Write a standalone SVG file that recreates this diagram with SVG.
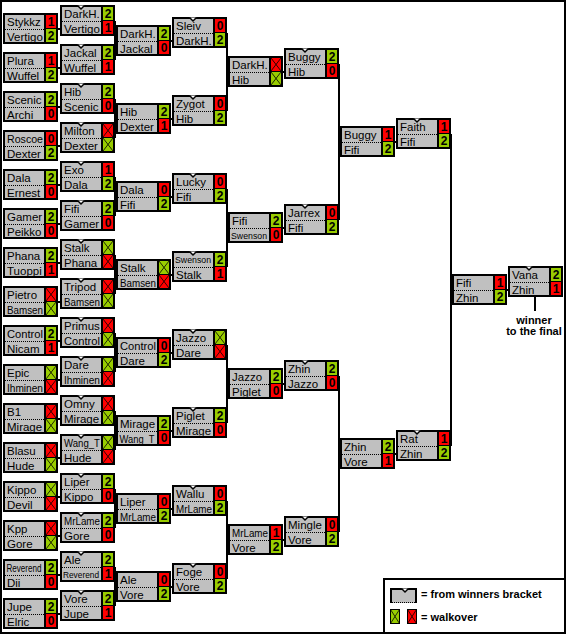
<svg xmlns="http://www.w3.org/2000/svg" xmlns:xlink="http://www.w3.org/1999/xlink" width="566" height="636" viewBox="0 0 566 636">
<style>
.n{font-family:"Liberation Sans",Arial,sans-serif;font-size:11.5px;fill:#000}
.sm{font-family:"Liberation Sans",Arial,sans-serif;font-size:9px;fill:#000}
.s{font-family:"Liberation Sans",Arial,sans-serif;font-size:12px;font-weight:bold;fill:#000;text-anchor:middle}
.c{stroke:#000;stroke-width:2;fill:none}
.lg{font-family:"Liberation Sans",Arial,sans-serif;font-size:11px;font-weight:bold;fill:#000}
</style>
<defs>
<g id="bx"><rect width="55" height="31" fill="#000"/><rect x="2" y="2" width="39" height="27" fill="#c0c0c0"/><path d="M2 16.5H41" stroke="#000" stroke-dasharray="1 1"/></g>
<path id="tb" d="M17.5 0.5L21 4L24.5 0.5" fill="#fff" stroke="#000" stroke-width="1.5"/>
<rect id="GT" x="43" y="2" width="10" height="13" fill="#99cc00"/>
<rect id="RT" x="43" y="2" width="10" height="13" fill="#ff0000"/>
<rect id="GB" x="43" y="16" width="10" height="13" fill="#99cc00"/>
<rect id="RB" x="43" y="16" width="10" height="13" fill="#ff0000"/>
<path id="XT" d="M43 2L53 15M53 2L43 15" stroke="#000" stroke-width="1" fill="none" opacity="0.8"/>
<path id="XB" d="M43 16L53 29M53 16L43 29" stroke="#000" stroke-width="1" fill="none" opacity="0.8"/>
</defs>
<rect width="566" height="636" fill="#fff"/>
<rect x="1" y="1" width="564" height="632" fill="none" stroke="#000" stroke-width="2"/>

<g id="connectors" class="c">
<path d="M57 29H61M57 68H61M57 107H61M57 146H61M57 185H61M57 224H61M57 263H61M57 302H61M57 341H61M57 380H61M57 419H61M57 458H61M57 497H61M57 536H61M57 575H61M57 614H61"/>
<path d="M115 21V60M115 99V138M115 177V216M115 255V294M115 333V372M115 411V450M115 489V528M115 567V606"/>
<path d="M114 41H117M114 119H117M114 197H117M114 275H117M114 353H117M114 431H117M114 509H117M114 587H117"/>
<path d="M170 41H173M170 119H173M170 197H173M170 275H173M170 353H173M170 431H173M170 509H173M170 587H173"/>
<path d="M227 33V111M227 189V267M227 345V423M227 501V579"/>
<path d="M226 72H229M226 228H229M226 384H229M226 540H229"/>
<path d="M282 72H285M282 228H285M282 384H285M282 540H285"/>
<path d="M339 64V220M339 376V532M338 142H341M338 454H341"/>
<path d="M394 142H397M394 454H397"/>
<path d="M451 134V446M450 290H453M506 290H509"/>
<path d="M535 297V311"/>
</g>

<!-- column 1 -->
<g id="m1" transform="translate(3,13)"><use href="#bx"/><use href="#RT"/><use href="#GB"/><text class="n" x="4" y="12.5">Stykkz</text><text class="n" x="4" y="27.5">Vertigo</text><text class="s" x="48" y="13">1</text><text class="s" x="48" y="27">2</text></g>
<g id="m2" transform="translate(3,52)"><use href="#bx"/><use href="#RT"/><use href="#GB"/><text class="n" x="4" y="12.5">Plura</text><text class="n" x="4" y="27.5">Wuffel</text><text class="s" x="48" y="13">1</text><text class="s" x="48" y="27">2</text></g>
<g id="m3" transform="translate(3,91)"><use href="#bx"/><use href="#GT"/><use href="#RB"/><text class="n" x="4" y="12.5">Scenic</text><text class="n" x="4" y="27.5">Archi</text><text class="s" x="48" y="13">2</text><text class="s" x="48" y="27">0</text></g>
<g id="m4" transform="translate(3,130)"><use href="#bx"/><use href="#RT"/><use href="#GB"/><text class="n" x="4" y="12.5" textLength="36" lengthAdjust="spacingAndGlyphs">Roscoe</text><text class="n" x="4" y="27.5">Dexter</text><text class="s" x="48" y="13">0</text><text class="s" x="48" y="27">2</text></g>
<g id="m5" transform="translate(3,169)"><use href="#bx"/><use href="#GT"/><use href="#RB"/><text class="n" x="4" y="12.5">Dala</text><text class="n" x="4" y="27.5">Ernest</text><text class="s" x="48" y="13">2</text><text class="s" x="48" y="27">0</text></g>
<g id="m6" transform="translate(3,208)"><use href="#bx"/><use href="#GT"/><use href="#RB"/><text class="n" x="4" y="12.5">Gamer</text><text class="n" x="4" y="27.5">Peikko</text><text class="s" x="48" y="13">2</text><text class="s" x="48" y="27">0</text></g>
<g id="m7" transform="translate(3,247)"><use href="#bx"/><use href="#GT"/><use href="#RB"/><text class="n" x="4" y="12.5">Phana</text><text class="n" x="4" y="27.5">Tuoppi</text><text class="s" x="48" y="13">2</text><text class="s" x="48" y="27">1</text></g>
<g id="m8" transform="translate(3,286)"><use href="#bx"/><use href="#RT"/><use href="#XT"/><use href="#GB"/><use href="#XB"/><text class="n" x="4" y="12.5">Pietro</text><text class="n" x="4" y="27.5" textLength="36" lengthAdjust="spacingAndGlyphs">Bamsen</text></g>
<g id="m9" transform="translate(3,325)"><use href="#bx"/><use href="#GT"/><use href="#RB"/><text class="n" x="4" y="12.5" textLength="36" lengthAdjust="spacingAndGlyphs">Control</text><text class="n" x="4" y="27.5">Nicam</text><text class="s" x="48" y="13">2</text><text class="s" x="48" y="27">1</text></g>
<g id="m10" transform="translate(3,364)"><use href="#bx"/><use href="#GT"/><use href="#XT"/><use href="#RB"/><use href="#XB"/><text class="n" x="4" y="12.5">Epic</text><text class="n" x="4" y="27.5" textLength="36" lengthAdjust="spacingAndGlyphs">Ihminen</text></g>
<g id="m11" transform="translate(3,403)"><use href="#bx"/><use href="#RT"/><use href="#XT"/><use href="#GB"/><use href="#XB"/><text class="n" x="4" y="12.5">B1</text><text class="n" x="4" y="27.5">Mirage</text></g>
<g id="m12" transform="translate(3,442)"><use href="#bx"/><use href="#RT"/><use href="#XT"/><use href="#GB"/><use href="#XB"/><text class="n" x="4" y="12.5">Blasu</text><text class="n" x="4" y="27.5">Hude</text></g>
<g id="m13" transform="translate(3,481)"><use href="#bx"/><use href="#GT"/><use href="#XT"/><use href="#RB"/><use href="#XB"/><text class="n" x="4" y="12.5">Kippo</text><text class="n" x="4" y="27.5">Devil</text></g>
<g id="m14" transform="translate(3,520)"><use href="#bx"/><use href="#RT"/><use href="#XT"/><use href="#GB"/><use href="#XB"/><text class="n" x="4" y="12.5">Kpp</text><text class="n" x="4" y="27.5">Gore</text></g>
<g id="m15" transform="translate(3,559)"><use href="#bx"/><use href="#GT"/><use href="#RB"/><text class="n" x="3.5" y="12.5" style="font-size:10px" textLength="35" lengthAdjust="spacingAndGlyphs">Reverend</text><text class="n" x="4" y="27.5">Dii</text><text class="s" x="48" y="13">2</text><text class="s" x="48" y="27">0</text></g>
<g id="m16" transform="translate(3,598)"><use href="#bx"/><use href="#GT"/><use href="#RB"/><text class="n" x="4" y="12.5">Jupe</text><text class="n" x="4" y="27.5">Elric</text><text class="s" x="48" y="13">2</text><text class="s" x="48" y="27">0</text></g>

<!-- column 2 -->
<g id="m17" transform="translate(60,5)"><use href="#bx"/><use href="#tb"/><use href="#GT"/><use href="#RB"/><text class="n" x="4" y="12.5">DarkH.</text><text class="n" x="4" y="27.5">Vertigo</text><text class="s" x="48" y="13">2</text><text class="s" x="48" y="27">1</text></g>
<g id="m18" transform="translate(60,44)"><use href="#bx"/><use href="#tb"/><use href="#GT"/><use href="#RB"/><text class="n" x="4" y="12.5">Jackal</text><text class="n" x="4" y="27.5">Wuffel</text><text class="s" x="48" y="13">2</text><text class="s" x="48" y="27">1</text></g>
<g id="m19" transform="translate(60,83)"><use href="#bx"/><use href="#tb"/><use href="#GT"/><use href="#RB"/><text class="n" x="4" y="12.5">Hib</text><text class="n" x="4" y="27.5">Scenic</text><text class="s" x="48" y="13">2</text><text class="s" x="48" y="27">0</text></g>
<g id="m20" transform="translate(60,122)"><use href="#bx"/><use href="#tb"/><use href="#RT"/><use href="#XT"/><use href="#GB"/><use href="#XB"/><text class="n" x="4" y="12.5">Milton</text><text class="n" x="4" y="27.5">Dexter</text></g>
<g id="m21" transform="translate(60,161)"><use href="#bx"/><use href="#tb"/><use href="#RT"/><use href="#GB"/><text class="n" x="4" y="12.5">Exo</text><text class="n" x="4" y="27.5">Dala</text><text class="s" x="48" y="13">1</text><text class="s" x="48" y="27">2</text></g>
<g id="m22" transform="translate(60,200)"><use href="#bx"/><use href="#tb"/><use href="#GT"/><use href="#RB"/><text class="n" x="4" y="12.5">Fifi</text><text class="n" x="4" y="27.5">Gamer</text><text class="s" x="48" y="13">2</text><text class="s" x="48" y="27">0</text></g>
<g id="m23" transform="translate(60,239)"><use href="#bx"/><use href="#tb"/><use href="#GT"/><use href="#XT"/><use href="#RB"/><use href="#XB"/><text class="n" x="4" y="12.5">Stalk</text><text class="n" x="4" y="27.5">Phana</text></g>
<g id="m24" transform="translate(60,278)"><use href="#bx"/><use href="#tb"/><use href="#RT"/><use href="#XT"/><use href="#GB"/><use href="#XB"/><text class="n" x="4" y="12.5">Tripod</text><text class="n" x="4" y="27.5" textLength="36" lengthAdjust="spacingAndGlyphs">Bamsen</text></g>
<g id="m25" transform="translate(60,317)"><use href="#bx"/><use href="#tb"/><use href="#RT"/><use href="#XT"/><use href="#GB"/><use href="#XB"/><text class="n" x="4" y="12.5">Primus</text><text class="n" x="4" y="27.5" textLength="36" lengthAdjust="spacingAndGlyphs">Control</text></g>
<g id="m26" transform="translate(60,356)"><use href="#bx"/><use href="#tb"/><use href="#GT"/><use href="#XT"/><use href="#RB"/><use href="#XB"/><text class="n" x="4" y="12.5">Dare</text><text class="n" x="4" y="27.5" textLength="36" lengthAdjust="spacingAndGlyphs">Ihminen</text></g>
<g id="m27" transform="translate(60,395)"><use href="#bx"/><use href="#tb"/><use href="#RT"/><use href="#XT"/><use href="#GB"/><use href="#XB"/><text class="n" x="4" y="12.5">Omny</text><text class="n" x="4" y="27.5">Mirage</text></g>
<g id="m28" transform="translate(60,434)"><use href="#bx"/><use href="#tb"/><use href="#GT"/><use href="#XT"/><use href="#RB"/><use href="#XB"/><text class="n" x="4" y="12.5" textLength="36" lengthAdjust="spacingAndGlyphs">Wang_T</text><text class="n" x="4" y="27.5">Hude</text></g>
<g id="m29" transform="translate(60,473)"><use href="#bx"/><use href="#tb"/><use href="#GT"/><use href="#RB"/><text class="n" x="4" y="12.5">Liper</text><text class="n" x="4" y="27.5">Kippo</text><text class="s" x="48" y="13">2</text><text class="s" x="48" y="27">0</text></g>
<g id="m30" transform="translate(60,512)"><use href="#bx"/><use href="#tb"/><use href="#GT"/><use href="#RB"/><text class="n" x="4" y="12.5" textLength="36" lengthAdjust="spacingAndGlyphs">MrLame</text><text class="n" x="4" y="27.5">Gore</text><text class="s" x="48" y="13">2</text><text class="s" x="48" y="27">0</text></g>
<g id="m31" transform="translate(60,551)"><use href="#bx"/><use href="#tb"/><use href="#GT"/><use href="#RB"/><text class="n" x="4" y="12.5">Ale</text><text class="sm" x="3" y="27" textLength="36" lengthAdjust="spacingAndGlyphs">Reverend</text><text class="s" x="48" y="13">2</text><text class="s" x="48" y="27">1</text></g>
<g id="m32" transform="translate(60,590)"><use href="#bx"/><use href="#tb"/><use href="#GT"/><use href="#RB"/><text class="n" x="4" y="12.5">Vore</text><text class="n" x="4" y="27.5">Jupe</text><text class="s" x="48" y="13">2</text><text class="s" x="48" y="27">1</text></g>

<!-- column 3 -->
<g id="m33" transform="translate(116,25)"><use href="#bx"/><use href="#GT"/><use href="#RB"/><text class="n" x="4" y="12.5">DarkH.</text><text class="n" x="4" y="27.5">Jackal</text><text class="s" x="48" y="13">2</text><text class="s" x="48" y="27">0</text></g>
<g id="m34" transform="translate(116,103)"><use href="#bx"/><use href="#GT"/><use href="#RB"/><text class="n" x="4" y="12.5">Hib</text><text class="n" x="4" y="27.5">Dexter</text><text class="s" x="48" y="13">2</text><text class="s" x="48" y="27">1</text></g>
<g id="m35" transform="translate(116,181)"><use href="#bx"/><use href="#RT"/><use href="#GB"/><text class="n" x="4" y="12.5">Dala</text><text class="n" x="4" y="27.5">Fifi</text><text class="s" x="48" y="13">0</text><text class="s" x="48" y="27">2</text></g>
<g id="m36" transform="translate(116,259)"><use href="#bx"/><use href="#GT"/><use href="#XT"/><use href="#RB"/><use href="#XB"/><text class="n" x="4" y="12.5">Stalk</text><text class="n" x="4" y="27.5" textLength="36" lengthAdjust="spacingAndGlyphs">Bamsen</text></g>
<g id="m37" transform="translate(116,337)"><use href="#bx"/><use href="#RT"/><use href="#GB"/><text class="n" x="4" y="12.5" textLength="36" lengthAdjust="spacingAndGlyphs">Control</text><text class="n" x="4" y="27.5">Dare</text><text class="s" x="48" y="13">0</text><text class="s" x="48" y="27">2</text></g>
<g id="m38" transform="translate(116,415)"><use href="#bx"/><use href="#GT"/><use href="#RB"/><text class="n" x="4" y="12.5">Mirage</text><text class="n" x="3.5" y="27.5" style="font-size:10.5px" textLength="35" lengthAdjust="spacingAndGlyphs">Wang_T</text><text class="s" x="48" y="13">2</text><text class="s" x="48" y="27">0</text></g>
<g id="m39" transform="translate(116,493)"><use href="#bx"/><use href="#RT"/><use href="#GB"/><text class="n" x="4" y="12.5">Liper</text><text class="n" x="4" y="27.5" textLength="36" lengthAdjust="spacingAndGlyphs">MrLame</text><text class="s" x="48" y="13">0</text><text class="s" x="48" y="27">2</text></g>
<g id="m40" transform="translate(116,571)"><use href="#bx"/><use href="#RT"/><use href="#GB"/><text class="n" x="4" y="12.5">Ale</text><text class="n" x="4" y="27.5">Vore</text><text class="s" x="48" y="13">0</text><text class="s" x="48" y="27">2</text></g>

<!-- column 4 -->
<g id="m41" transform="translate(172,17)"><use href="#bx"/><use href="#tb"/><use href="#RT"/><use href="#GB"/><text class="n" x="4" y="12.5">Sleiv</text><text class="n" x="4" y="27.5">DarkH.</text><text class="s" x="48" y="13">0</text><text class="s" x="48" y="27">2</text></g>
<g id="m42" transform="translate(172,95)"><use href="#bx"/><use href="#tb"/><use href="#RT"/><use href="#GB"/><text class="n" x="4" y="12.5">Zygot</text><text class="n" x="4" y="27.5">Hib</text><text class="s" x="48" y="13">0</text><text class="s" x="48" y="27">2</text></g>
<g id="m43" transform="translate(172,173)"><use href="#bx"/><use href="#tb"/><use href="#RT"/><use href="#GB"/><text class="n" x="4" y="12.5">Lucky</text><text class="n" x="4" y="27.5">Fifi</text><text class="s" x="48" y="13">0</text><text class="s" x="48" y="27">2</text></g>
<g id="m44" transform="translate(172,251)"><use href="#bx"/><use href="#tb"/><use href="#GT"/><use href="#RB"/><text class="sm" x="3" y="12" textLength="36" lengthAdjust="spacingAndGlyphs">Swenson</text><text class="n" x="4" y="27.5">Stalk</text><text class="s" x="48" y="13">2</text><text class="s" x="48" y="27">1</text></g>
<g id="m45" transform="translate(172,329)"><use href="#bx"/><use href="#tb"/><use href="#GT"/><use href="#XT"/><use href="#RB"/><use href="#XB"/><text class="n" x="4" y="12.5">Jazzo</text><text class="n" x="4" y="27.5">Dare</text></g>
<g id="m46" transform="translate(172,407)"><use href="#bx"/><use href="#tb"/><use href="#GT"/><use href="#RB"/><text class="n" x="4" y="12.5">Piglet</text><text class="n" x="4" y="27.5">Mirage</text><text class="s" x="48" y="13">2</text><text class="s" x="48" y="27">0</text></g>
<g id="m47" transform="translate(172,485)"><use href="#bx"/><use href="#tb"/><use href="#RT"/><use href="#GB"/><text class="n" x="4" y="12.5">Wallu</text><text class="n" x="4" y="27.5" textLength="36" lengthAdjust="spacingAndGlyphs">MrLame</text><text class="s" x="48" y="13">0</text><text class="s" x="48" y="27">2</text></g>
<g id="m48" transform="translate(172,563)"><use href="#bx"/><use href="#tb"/><use href="#RT"/><use href="#GB"/><text class="n" x="4" y="12.5">Foge</text><text class="n" x="4" y="27.5">Vore</text><text class="s" x="48" y="13">0</text><text class="s" x="48" y="27">2</text></g>

<!-- column 5 -->
<g id="m49" transform="translate(228,56)"><use href="#bx"/><use href="#RT"/><use href="#XT"/><use href="#GB"/><use href="#XB"/><text class="n" x="4" y="12.5">DarkH.</text><text class="n" x="4" y="27.5">Hib</text></g>
<g id="m50" transform="translate(228,212)"><use href="#bx"/><use href="#GT"/><use href="#RB"/><text class="n" x="4" y="12.5">Fifi</text><text class="sm" x="3" y="27" textLength="36" lengthAdjust="spacingAndGlyphs">Swenson</text><text class="s" x="48" y="13">2</text><text class="s" x="48" y="27">0</text></g>
<g id="m51" transform="translate(228,368)"><use href="#bx"/><use href="#GT"/><use href="#RB"/><text class="n" x="4" y="12.5">Jazzo</text><text class="n" x="4" y="27.5">Piglet</text><text class="s" x="48" y="13">2</text><text class="s" x="48" y="27">0</text></g>
<g id="m52" transform="translate(228,524)"><use href="#bx"/><use href="#RT"/><use href="#GB"/><text class="n" x="4" y="12.5" textLength="36" lengthAdjust="spacingAndGlyphs">MrLame</text><text class="n" x="4" y="27.5">Vore</text><text class="s" x="48" y="13">1</text><text class="s" x="48" y="27">2</text></g>

<!-- column 6 -->
<g id="m53" transform="translate(284,48)"><use href="#bx"/><use href="#tb"/><use href="#GT"/><use href="#RB"/><text class="n" x="4" y="12.5">Buggy</text><text class="n" x="4" y="27.5">Hib</text><text class="s" x="48" y="13">2</text><text class="s" x="48" y="27">0</text></g>
<g id="m54" transform="translate(284,204)"><use href="#bx"/><use href="#tb"/><use href="#RT"/><use href="#GB"/><text class="n" x="4" y="12.5">Jarrex</text><text class="n" x="4" y="27.5">Fifi</text><text class="s" x="48" y="13">0</text><text class="s" x="48" y="27">2</text></g>
<g id="m55" transform="translate(284,360)"><use href="#bx"/><use href="#tb"/><use href="#GT"/><use href="#RB"/><text class="n" x="4" y="12.5">Zhin</text><text class="n" x="4" y="27.5">Jazzo</text><text class="s" x="48" y="13">2</text><text class="s" x="48" y="27">0</text></g>
<g id="m56" transform="translate(284,516)"><use href="#bx"/><use href="#tb"/><use href="#RT"/><use href="#GB"/><text class="n" x="4" y="12.5">Mingle</text><text class="n" x="4" y="27.5">Vore</text><text class="s" x="48" y="13">0</text><text class="s" x="48" y="27">2</text></g>

<!-- column 7 -->
<g id="m57" transform="translate(340,126)"><use href="#bx"/><use href="#RT"/><use href="#GB"/><text class="n" x="4" y="12.5">Buggy</text><text class="n" x="4" y="27.5">Fifi</text><text class="s" x="48" y="13">1</text><text class="s" x="48" y="27">2</text></g>
<g id="m58" transform="translate(340,438)"><use href="#bx"/><use href="#GT"/><use href="#RB"/><text class="n" x="4" y="12.5">Zhin</text><text class="n" x="4" y="27.5">Vore</text><text class="s" x="48" y="13">2</text><text class="s" x="48" y="27">1</text></g>

<!-- column 8 -->
<g id="m59" transform="translate(396,118)"><use href="#bx"/><use href="#tb"/><use href="#RT"/><use href="#GB"/><text class="n" x="4" y="12.5">Faith</text><text class="n" x="4" y="27.5">Fifi</text><text class="s" x="48" y="13">1</text><text class="s" x="48" y="27">2</text></g>
<g id="m60" transform="translate(396,430)"><use href="#bx"/><use href="#tb"/><use href="#RT"/><use href="#GB"/><text class="n" x="4" y="12.5">Rat</text><text class="n" x="4" y="27.5">Zhin</text><text class="s" x="48" y="13">1</text><text class="s" x="48" y="27">2</text></g>

<!-- column 9 / 10 -->
<g id="m61" transform="translate(452,274)"><use href="#bx"/><use href="#RT"/><use href="#GB"/><text class="n" x="4" y="12.5">Fifi</text><text class="n" x="4" y="27.5">Zhin</text><text class="s" x="48" y="13">1</text><text class="s" x="48" y="27">2</text></g>
<g id="m62" transform="translate(508,266)"><use href="#bx"/><use href="#tb"/><use href="#GT"/><use href="#RB"/><text class="n" x="4" y="12.5">Vana</text><text class="n" x="4" y="27.5">Zhin</text><text class="s" x="48" y="13">2</text><text class="s" x="48" y="27">1</text></g>

<g id="winner-label">
<text class="lg" x="534" y="324" text-anchor="middle">winner</text>
<text class="lg" x="534" y="335" text-anchor="middle">to the final</text>
</g>

<g id="legend">
<rect x="384" y="579" width="181" height="54" fill="#fff" stroke="#000" stroke-width="2"/>
<rect x="390" y="588" width="27" height="15" fill="#c0c0c0"/>
<path d="M390 589H417M391 588V603M416 588V603" stroke="#000" stroke-width="2" fill="none"/>
<path d="M392 602.5H415" stroke="#000" stroke-dasharray="1 1"/>
<path d="M401.5 588.5L405 592L408.5 588.5" fill="#fff" stroke="#000" stroke-width="1.5"/>
<text class="lg" x="421" y="598">= from winners bracket</text>
<rect x="390.5" y="609.5" width="9" height="14" fill="#99cc00" stroke="#000"/>
<path d="M390.5 609.5L399.5 623.5M399.5 609.5L390.5 623.5" stroke="#000" stroke-width="1" opacity="0.8"/>
<rect x="407.5" y="609.5" width="9" height="14" fill="#ff0000" stroke="#000"/>
<path d="M407.5 609.5L416.5 623.5M416.5 609.5L407.5 623.5" stroke="#000" stroke-width="1" opacity="0.8"/>
<text class="lg" x="421" y="621">= walkover</text>
</g>
</svg>
